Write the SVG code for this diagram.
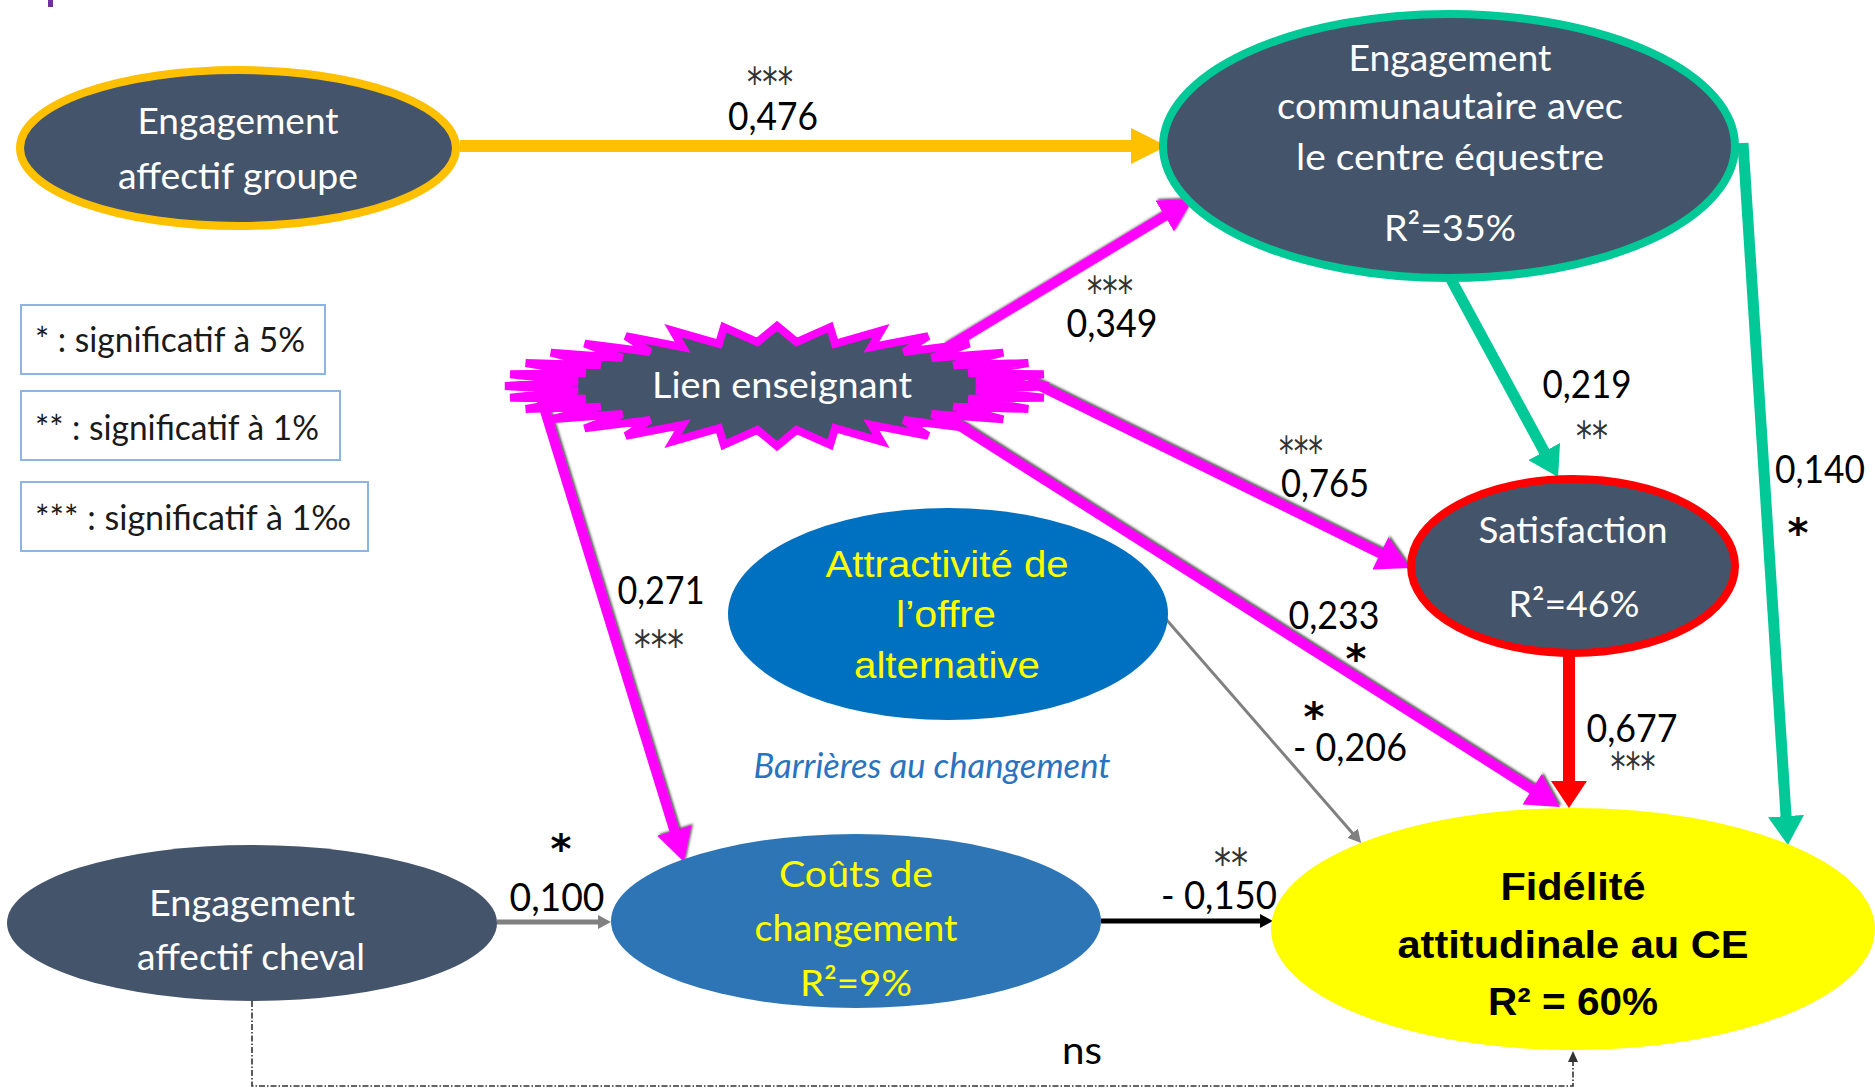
<svg xmlns="http://www.w3.org/2000/svg" width="1875" height="1092" viewBox="0 0 1875 1092">
<defs>
<style>
.dark{fill:#44546A}
.nt{font-family:Lato,"Open Sans",sans-serif;font-size:37px;fill:#ffffff;text-anchor:middle}
.yt{font-family:Lato,"Open Sans",sans-serif;font-size:37px;fill:#FFFF00;text-anchor:middle}
.yc{font-family:"Liberation Sans",Arial,sans-serif;font-size:36px;fill:#FFFF00;text-anchor:middle}
.ft{font-family:"Liberation Sans",Arial,sans-serif;font-size:38px;font-weight:bold;fill:#000;text-anchor:middle}
.lbl{font-family:Lato,"Open Sans",sans-serif;font-size:38px;fill:#000;text-anchor:middle}
.ast{font-family:"DejaVu Sans",sans-serif;font-size:40px;fill:#333;text-anchor:middle}
.ast1{font-family:"DejaVu Sans",sans-serif;font-size:40px;font-weight:bold;fill:#000;text-anchor:middle}
.leg rect{fill:#fff;stroke:#8EB4E3;stroke-width:2}
.leg text{font-family:Lato,"Open Sans",sans-serif;font-size:34px;fill:#1a1a1a}
.pink{stroke:#FF00FF;stroke-width:10;fill:none;marker-end:url(#mPink)}
.teal{stroke:#00C896;stroke-width:11;fill:none;marker-end:url(#mTeal)}
</style>
<marker id="mOrange" markerUnits="userSpaceOnUse" viewBox="0 -18 36 36" refX="1" refY="0" markerWidth="36" markerHeight="36" orient="auto"><path d="M0,-18 L36,0 L0,18 z" fill="#FFC000"/></marker>
<marker id="mPink" markerUnits="userSpaceOnUse" viewBox="0 -18 33 36" refX="1" refY="0" markerWidth="33" markerHeight="36" orient="auto"><path d="M0,-18 L33,0 L0,18 z" fill="#FF00FF"/></marker>
<marker id="mTeal" markerUnits="userSpaceOnUse" viewBox="0 -18 29 36" refX="1" refY="0" markerWidth="29" markerHeight="36" orient="auto"><path d="M0,-18 L29,0 L0,18 z" fill="#00C896"/></marker>
<marker id="mRed" markerUnits="userSpaceOnUse" viewBox="0 -18 27 36" refX="1" refY="0" markerWidth="27" markerHeight="36" orient="auto"><path d="M0,-18 L27,0 L0,18 z" fill="#FF0000"/></marker>
<marker id="mGrey" markerUnits="userSpaceOnUse" viewBox="0 -7 13 14" refX="1" refY="0" markerWidth="13" markerHeight="14" orient="auto"><path d="M0,-7 L13,0 L0,7 z" fill="#808080"/></marker>
<marker id="mBlack" markerUnits="userSpaceOnUse" viewBox="0 -7 13 14" refX="1" refY="0" markerWidth="13" markerHeight="14" orient="auto"><path d="M0,-7 L13,0 L0,7 z" fill="#000"/></marker>
<marker id="mDash" markerUnits="userSpaceOnUse" viewBox="0 -5 11 10" refX="1" refY="0" markerWidth="11" markerHeight="10" orient="auto"><path d="M0,-5 L11,0 L0,5 z" fill="#333"/></marker>
<filter id="sh" x="-10%" y="-10%" width="120%" height="120%"><feDropShadow dx="1.5" dy="-1.5" stdDeviation="0.8" flood-color="#404040" flood-opacity="0.9"/></filter>
</defs>
<rect x="0" y="0" width="1875" height="1092" fill="#ffffff"/>
<rect x="48" y="0" width="5" height="7" fill="#7030A0"/>

<g id="connectors">
  <line x1="460" y1="146" x2="1132" y2="146" stroke="#FFC000" stroke-width="12" marker-end="url(#mOrange)"/>
  <g filter="url(#sh)">
    <line class="pink" x1="946" y1="348" x2="1165.6" y2="215.5"/>
    <line class="pink" x1="1028" y1="380" x2="1381.3" y2="553.9"/>
    <line class="pink" x1="949" y1="419" x2="1533" y2="789.8"/>
    <line class="pink" x1="538" y1="388" x2="674.6" y2="831.4"/>
  </g>
  <line class="teal" x1="1440" y1="259" x2="1544.7" y2="452.4"/>
  <line class="teal" x1="1743" y1="143" x2="1786.1" y2="817.1"/>
  <line x1="1569" y1="650" x2="1569" y2="782" stroke="#FF0000" stroke-width="12" marker-end="url(#mRed)"/>
  <line x1="1165" y1="618" x2="1353.2" y2="833.9" stroke="#808080" stroke-width="3" marker-end="url(#mGrey)"/>
  <line x1="497" y1="922" x2="599" y2="922" stroke="#808080" stroke-width="5" marker-end="url(#mGrey)"/>
  <line x1="1101" y1="921" x2="1261" y2="921" stroke="#000" stroke-width="5" marker-end="url(#mBlack)"/>
  <path d="M252,1001 V1086 H1573 V1061" fill="none" stroke="#333" stroke-width="1.6" stroke-dasharray="6 2 1.5 2" marker-end="url(#mDash)"/>
</g>

<g id="legend" class="leg">
  <g id="legend-5"><rect x="21" y="305" width="304" height="69"/><text x="35" y="352" textLength="270" lengthAdjust="spacingAndGlyphs">* : significatif à 5%</text></g>
  <g id="legend-1"><rect x="21" y="391" width="319" height="69"/><text x="35" y="440" textLength="284" lengthAdjust="spacingAndGlyphs">** : significatif à 1%</text></g>
  <g id="legend-01"><rect x="21" y="482" width="347" height="69"/><text x="35" y="530" textLength="316" lengthAdjust="spacingAndGlyphs">*** : significatif à 1‰</text></g>
</g>

<g id="node-engagement-affectif-groupe">
  <ellipse cx="238" cy="148" rx="218" ry="78" class="dark" stroke="#FFC000" stroke-width="8"/>
  <text class="nt" x="238" y="134" textLength="201" lengthAdjust="spacingAndGlyphs">Engagement</text>
  <text class="nt" x="238" y="189" textLength="240" lengthAdjust="spacingAndGlyphs">affectif groupe</text>
</g>

<g id="node-engagement-communautaire">
  <ellipse cx="1449" cy="146" rx="286" ry="132" class="dark" stroke="#00C896" stroke-width="8"/>
  <text class="nt" x="1450" y="71" textLength="203" lengthAdjust="spacingAndGlyphs">Engagement</text>
  <text class="nt" x="1450" y="119" textLength="346" lengthAdjust="spacingAndGlyphs">communautaire avec</text>
  <text class="nt" x="1450" y="170" textLength="308" lengthAdjust="spacingAndGlyphs">le centre équestre</text>
  <text class="nt" x="1450" y="241" textLength="132" lengthAdjust="spacingAndGlyphs">R²=35%</text>
</g>

<g id="node-lien-enseignant">
  <polygon transform="translate(777 386)" class="dark" stroke="#FF00FF" stroke-width="8" stroke-linejoin="miter" points="272,0 199,-4.3 266.8,-11.7 191.4,-12.8 251.3,-23 176.4,-20.7 226.2,-33.3 154.6,-27.9 192.3,-42.4 126.9,-34 151.1,-49.9 94.3,-38.8 104.1,-55.4 58.1,-42.1 53.1,-58.8 19.6,-43.8 0,-60 -19.6,-43.8 -53.1,-58.8 -58.1,-42.1 -104.1,-55.4 -94.3,-38.8 -151.1,-49.9 -126.9,-34 -192.3,-42.4 -154.6,-27.9 -226.2,-33.3 -176.4,-20.7 -251.3,-23 -191.4,-12.8 -266.8,-11.7 -199,-4.3 -272,0 -199,4.3 -266.8,11.7 -191.4,12.8 -251.3,23 -176.4,20.7 -226.2,33.3 -154.6,27.9 -192.3,42.4 -126.9,34 -151.1,49.9 -94.3,38.8 -104.1,55.4 -58.1,42.1 -53.1,58.8 -19.6,43.8 0,60 19.6,43.8 53.1,58.8 58.1,42.1 104.1,55.4 94.3,38.8 151.1,49.9 126.9,34 192.3,42.4 154.6,27.9 226.2,33.3 176.4,20.7 251.3,23 191.4,12.8 266.8,11.7 199,4.3"/>
  <text class="nt" x="782" y="398" textLength="260" lengthAdjust="spacingAndGlyphs">Lien enseignant</text>
</g>

<g id="node-attractivite">
  <ellipse cx="948" cy="614" rx="220" ry="106" fill="#0070C0"/>
  <text class="yc" x="947" y="577" textLength="243" lengthAdjust="spacingAndGlyphs">Attractivité de</text>
  <text class="yc" x="946" y="627" textLength="100" lengthAdjust="spacingAndGlyphs">l’offre</text>
  <text class="yc" x="947" y="678" textLength="186" lengthAdjust="spacingAndGlyphs">alternative</text>
</g>

<g id="node-satisfaction">
  <ellipse cx="1573" cy="566" rx="162" ry="87" class="dark" stroke="#FF0000" stroke-width="8"/>
  <text class="nt" x="1573" y="543" textLength="189" lengthAdjust="spacingAndGlyphs">Satisfaction</text>
  <text class="nt" x="1574" y="617" textLength="131" lengthAdjust="spacingAndGlyphs">R²=46%</text>
</g>

<g id="node-engagement-affectif-cheval">
  <ellipse cx="252" cy="923" rx="245" ry="78" class="dark"/>
  <text class="nt" x="252" y="916" textLength="206" lengthAdjust="spacingAndGlyphs">Engagement</text>
  <text class="nt" x="251" y="970" textLength="228" lengthAdjust="spacingAndGlyphs">affectif cheval</text>
</g>

<g id="node-couts">
  <ellipse cx="856" cy="921" rx="245" ry="87" fill="#2E75B6"/>
  <text class="yt" x="856" y="887" textLength="154" lengthAdjust="spacingAndGlyphs">Coûts de</text>
  <text class="yt" x="856" y="941" textLength="203" lengthAdjust="spacingAndGlyphs">changement</text>
  <text class="yt" x="856" y="996" textLength="112" lengthAdjust="spacingAndGlyphs">R²=9%</text>
</g>

<g id="node-fidelite">
  <ellipse cx="1573" cy="929" rx="302" ry="121" fill="#FFFF00"/>
  <text class="ft" x="1573" y="900" textLength="145" lengthAdjust="spacingAndGlyphs">Fidélité</text>
  <text class="ft" x="1573" y="958" textLength="351" lengthAdjust="spacingAndGlyphs">attitudinale au CE</text>
  <text class="ft" x="1573" y="1015" textLength="170" lengthAdjust="spacingAndGlyphs">R² = 60%</text>
</g>

<text x="932" y="778" font-family="Lato,'Open Sans',sans-serif" font-size="34" font-style="italic" fill="#2A73C0" text-anchor="middle" textLength="357" lengthAdjust="spacingAndGlyphs">Barrières au changement</text>

<g id="labels">
  <text class="ast" x="770" y="97" textLength="46" lengthAdjust="spacingAndGlyphs">***</text>
  <text class="lbl" x="773" y="130" textLength="90" lengthAdjust="spacingAndGlyphs">0,476</text>
  <text class="ast" x="1110" y="306" textLength="46" lengthAdjust="spacingAndGlyphs">***</text>
  <text class="lbl" x="1112" y="337" textLength="91" lengthAdjust="spacingAndGlyphs">0,349</text>
  <text class="lbl" x="1587" y="398" textLength="89" lengthAdjust="spacingAndGlyphs">0,219</text>
  <text class="ast" x="1592" y="451" textLength="32" lengthAdjust="spacingAndGlyphs">**</text>
  <text class="ast" x="1301" y="466" textLength="44" lengthAdjust="spacingAndGlyphs">***</text>
  <text class="lbl" x="1325" y="497" textLength="88" lengthAdjust="spacingAndGlyphs">0,765</text>
  <text class="lbl" x="1820" y="483" textLength="90" lengthAdjust="spacingAndGlyphs">0,140</text>
  <text class="ast1" x="1798" y="547">*</text>
  <text class="lbl" x="661" y="604" textLength="87" lengthAdjust="spacingAndGlyphs">0,271</text>
  <text class="ast" x="659" y="660" textLength="50" lengthAdjust="spacingAndGlyphs">***</text>
  <text class="lbl" x="1334" y="629" textLength="91" lengthAdjust="spacingAndGlyphs">0,233</text>
  <text class="ast1" x="1356" y="673">*</text>
  <text class="ast1" x="1314" y="731">*</text>
  <text class="lbl" x="1350" y="761" textLength="114" lengthAdjust="spacingAndGlyphs">- 0,206</text>
  <text class="lbl" x="1632" y="742" textLength="91" lengthAdjust="spacingAndGlyphs">0,677</text>
  <text class="ast" x="1633" y="782" textLength="45" lengthAdjust="spacingAndGlyphs">***</text>
  <text class="ast1" x="561" y="863">*</text>
  <text class="lbl" x="557" y="911" textLength="95" lengthAdjust="spacingAndGlyphs">0,100</text>
  <text class="ast" x="1231" y="878" textLength="34" lengthAdjust="spacingAndGlyphs">**</text>
  <text class="lbl" x="1219" y="909" textLength="116" lengthAdjust="spacingAndGlyphs">- 0,150</text>
  <text class="lbl" x="1082" y="1064" textLength="40" lengthAdjust="spacingAndGlyphs">ns</text>
</g>
</svg>
